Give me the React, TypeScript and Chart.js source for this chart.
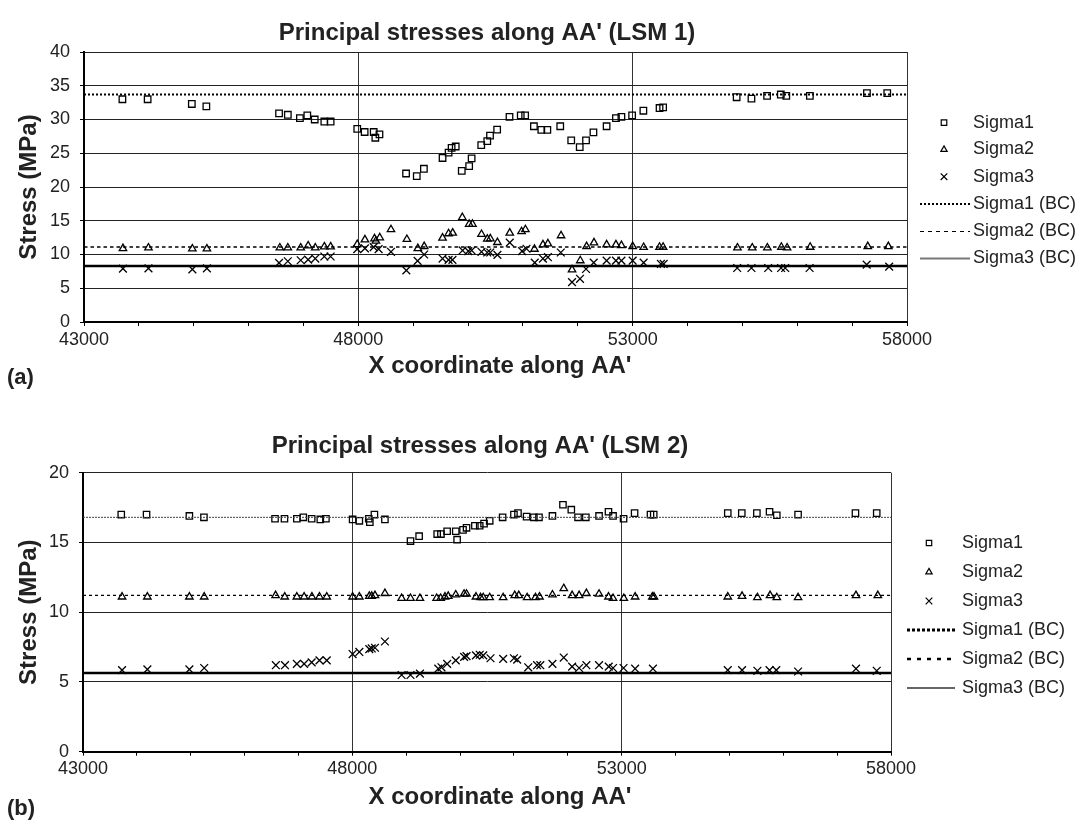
import React, { useEffect, useRef } from 'react';
import { Chart, registerables } from 'chart.js';

Chart.register(...registerables);

const FONT = "'Liberation Sans', Arial, Helvetica, sans-serif";

// ---------------- shared axis data ----------------
const X_MIN = 43000;
const X_MAX = 58000;
const X_STEP_MINOR = 1000;
const X_STEP_MAJOR = 5000;
const Y_STEP = 5;
const legendLabels = ['Sigma1', 'Sigma2', 'Sigma3', 'Sigma1 (BC)', 'Sigma2 (BC)', 'Sigma3 (BC)'];
const xAxisTitle = "X coordinate along AA'";
const yAxisTitle = 'Stress (MPa)';

// ---------------- panel (a): LSM 1 ----------------
const lsm1Title = "Principal stresses along AA' (LSM 1)";
const lsm1YMax = 40;
const lsm1Sigma1X = [43700, 44160, 44965, 45230, 46555, 46715, 46935, 47070, 47205, 47380, 47495, 47980, 48115, 48280, 48310, 48385, 48870, 49065, 49195, 49535, 49645, 49700, 49775, 49885, 50020, 50065, 50240, 50350, 50400, 50530, 50755, 50960, 51040, 51200, 51335, 51445, 51680, 51880, 52035, 52150, 52285, 52525, 52695, 52795, 52990, 53195, 53490, 53555, 54895, 55165, 55450, 55700, 55800, 56230, 57270, 57640];
const lsm1Sigma1Y = [33.0, 33.0, 32.3, 31.95, 30.9, 30.7, 30.2, 30.6, 30.0, 29.7, 29.7, 28.6, 28.15, 28.15, 27.3, 27.8, 22.0, 21.6, 22.7, 24.3, 25.1, 25.8, 26.0, 22.4, 23.1, 24.25, 26.2, 26.8, 27.6, 28.5, 30.4, 30.6, 30.6, 29.0, 28.45, 28.45, 29.0, 26.9, 25.9, 26.9, 28.1, 29.0, 30.2, 30.4, 30.6, 31.3, 31.7, 31.8, 33.3, 33.1, 33.5, 33.7, 33.5, 33.5, 33.9, 33.9];
const lsm1Sigma2X = [43710, 44175, 44975, 45240, 46570, 46715, 46950, 47085, 47215, 47380, 47495, 47980, 48120, 48295, 48320, 48390, 48595, 48885, 49085, 49200, 49535, 49645, 49720, 49895, 50020, 50080, 50245, 50350, 50405, 50535, 50760, 50975, 51045, 51210, 51365, 51455, 51695, 51895, 52045, 52160, 52295, 52525, 52695, 52795, 53000, 53200, 53490, 53555, 54910, 55180, 55455, 55710, 55815, 56235, 57285, 57660];
const lsm1Sigma2Y = [10.9, 11.0, 10.85, 10.85, 11.0, 11.0, 11.0, 11.3, 11.0, 11.15, 11.15, 11.5, 12.2, 12.35, 12.0, 12.5, 13.7, 12.25, 10.9, 11.2, 12.45, 13.1, 13.2, 15.5, 14.5, 14.5, 13.0, 12.3, 12.35, 11.8, 13.2, 13.4, 13.7, 10.8, 11.45, 11.6, 12.8, 7.75, 9.1, 11.2, 11.75, 11.45, 11.45, 11.35, 11.2, 11.07, 11.1, 11.1, 11.0, 11.0, 11.0, 11.1, 11.0, 11.1, 11.2, 11.2];
const lsm1Sigma3X = [43710, 44175, 44975, 45240, 46555, 46715, 46950, 47085, 47215, 47380, 47495, 47980, 48120, 48280, 48370, 48595, 48875, 49080, 49200, 49535, 49645, 49715, 49900, 50005, 50065, 50245, 50350, 50405, 50535, 50760, 50985, 51065, 51215, 51365, 51455, 51690, 51895, 52040, 52150, 52290, 52525, 52695, 52795, 53000, 53200, 53515, 53565, 54905, 55165, 55470, 55705, 55780, 56225, 57265, 57675];
const lsm1Sigma3Y = [7.9, 7.95, 7.8, 7.95, 8.75, 9.0, 9.15, 9.25, 9.4, 9.7, 9.7, 10.8, 10.9, 11.1, 10.8, 10.4, 7.65, 9.05, 10.0, 9.4, 9.2, 9.2, 10.6, 10.5, 10.6, 10.4, 10.3, 10.3, 9.95, 11.75, 10.5, 10.85, 8.8, 9.4, 9.6, 10.3, 5.9, 6.4, 7.85, 8.8, 9.1, 9.1, 9.1, 9.1, 8.8, 8.6, 8.6, 8.0, 8.0, 8.0, 8.0, 8.0, 8.0, 8.5, 8.2];
const lsm1BC = [33.7, 11.1, 8.3];

// ---------------- panel (b): LSM 2 ----------------
const lsm2Title = "Principal stresses along AA' (LSM 2)";
const lsm2YMax = 20;
const lsm2Sigma1X = [43710, 44180, 44975, 45245, 46565, 46740, 46970, 47090, 47245, 47405, 47510, 48005, 48130, 48305, 48325, 48410, 48605, 49080, 49240, 49575, 49645, 49760, 49920, 49945, 50055, 50120, 50275, 50365, 50445, 50550, 50790, 51000, 51075, 51235, 51370, 51465, 51715, 51910, 52065, 52190, 52335, 52580, 52755, 52840, 53035, 53240, 53535, 53595, 54970, 55230, 55510, 55745, 55880, 56275, 57340, 57735];
const lsm2Sigma1Y = [17.0, 17.0, 16.9, 16.8, 16.7, 16.7, 16.7, 16.8, 16.7, 16.65, 16.7, 16.65, 16.55, 16.7, 16.45, 17.0, 16.65, 15.1, 15.45, 15.6, 15.6, 15.8, 15.8, 15.2, 15.9, 16.05, 16.2, 16.2, 16.35, 16.55, 16.8, 17.0, 17.1, 16.85, 16.8, 16.8, 16.9, 17.7, 17.35, 16.8, 16.8, 16.9, 17.2, 16.9, 16.7, 17.1, 17.0, 17.0, 17.1, 17.1, 17.1, 17.2, 16.95, 17.0, 17.1, 17.1];
const lsm2Sigma2X = [43725, 44195, 44975, 45250, 46575, 46745, 46970, 47105, 47250, 47390, 47525, 48005, 48130, 48315, 48360, 48420, 48605, 48915, 49080, 49255, 49565, 49640, 49720, 49780, 49920, 50075, 50120, 50295, 50380, 50430, 50550, 50800, 51015, 51090, 51245, 51400, 51475, 51715, 51925, 52080, 52210, 52345, 52580, 52755, 52840, 53040, 53250, 53570, 53600, 54970, 55235, 55520, 55755, 55880, 56275, 57350, 57755];
const lsm2Sigma2Y = [11.1, 11.1, 11.1, 11.1, 11.2, 11.1, 11.1, 11.1, 11.1, 11.1, 11.1, 11.1, 11.1, 11.15, 11.15, 11.2, 11.35, 11.0, 11.0, 11.0, 11.0, 11.0, 11.1, 11.15, 11.25, 11.3, 11.3, 11.1, 11.05, 11.05, 11.05, 11.05, 11.2, 11.2, 11.05, 11.05, 11.1, 11.25, 11.7, 11.2, 11.2, 11.35, 11.3, 11.1, 11.0, 11.0, 11.1, 11.1, 11.1, 11.1, 11.15, 11.05, 11.2, 11.05, 11.05, 11.2, 11.2];
const lsm2Sigma3X = [43725, 44195, 44975, 45250, 46580, 46750, 46970, 47105, 47245, 47390, 47525, 48005, 48130, 48315, 48360, 48420, 48605, 48915, 49080, 49255, 49595, 49655, 49760, 49920, 50075, 50120, 50295, 50365, 50430, 50565, 50800, 51000, 51060, 51265, 51430, 51490, 51715, 51925, 52080, 52210, 52345, 52580, 52760, 52840, 53035, 53250, 53580, 54970, 55235, 55520, 55745, 55870, 56275, 57350, 57735];
const lsm2Sigma3Y = [5.85, 5.9, 5.9, 6.0, 6.2, 6.2, 6.3, 6.3, 6.4, 6.55, 6.55, 7.0, 7.15, 7.35, 7.4, 7.45, 7.9, 5.5, 5.5, 5.6, 5.95, 6.05, 6.3, 6.55, 6.8, 6.85, 6.9, 6.95, 6.9, 6.7, 6.65, 6.7, 6.6, 6.05, 6.2, 6.2, 6.3, 6.75, 6.1, 6.0, 6.2, 6.2, 6.1, 6.0, 6.0, 5.95, 5.95, 5.85, 5.85, 5.8, 5.85, 5.85, 5.75, 5.95, 5.8];
const lsm2BC = [16.8, 11.2, 5.65];

// ---------------- layout / style specs ----------------
type LineStyle = { dash: number[]; width: number; color: string };

type Spec = {
  top: number;
  canvasH: number;
  area: { left: number; right: number; top: number; bottom: number };
  yMax: number;
  title: string;
  titleX: number;
  titleY: number;
  xTitleX: number;
  xTitleY: number;
  yTitleX: number;
  panel: string;
  panelX: number;
  panelY: number;
  legendRows: number[];
  legendMarkerX: number;
  legendLine: [number, number];
  legendTextX: number;
  sx: number[][];
  sy: number[][];
  bc: number[];
  bcStyles: LineStyle[];
  legendLineStyles: LineStyle[];
  markerR: number[];
};

const markerKinds = ['rect', 'triangle', 'crossRot'];

const specA: Spec = {
  top: 0,
  canvasH: 400,
  area: { left: 84, right: 907, top: 52, bottom: 322 },
  yMax: lsm1YMax,
  title: lsm1Title,
  titleX: 487,
  titleY: 33,
  xTitleX: 500,
  xTitleY: 366,
  yTitleX: 29,
  panel: '(a)',
  panelX: 7,
  panelY: 378,
  legendRows: [122.7, 149.5, 176.7, 204, 231.5, 258.5],
  legendMarkerX: 944,
  legendLine: [920, 970],
  legendTextX: 973,
  sx: [lsm1Sigma1X, lsm1Sigma2X, lsm1Sigma3X],
  sy: [lsm1Sigma1Y, lsm1Sigma2Y, lsm1Sigma3Y],
  bc: lsm1BC,
  bcStyles: [
    { dash: [2, 2], width: 2, color: '#000' },
    { dash: [3.5, 3], width: 1.5, color: '#000' },
    { dash: [], width: 2.5, color: '#000' },
  ],
  legendLineStyles: [
    { dash: [2, 2], width: 2, color: '#000' },
    { dash: [4, 4], width: 1.2, color: '#000' },
    { dash: [], width: 2, color: '#777' },
  ],
  markerR: [4.6, 4.3, 5.5],
};

const specB: Spec = {
  top: 400,
  canvasH: 424,
  area: { left: 83, right: 891, top: 72.7, bottom: 351.7 },
  yMax: lsm2YMax,
  title: lsm2Title,
  titleX: 480,
  titleY: 46,
  xTitleX: 500,
  xTitleY: 397,
  yTitleX: 29,
  panel: '(b)',
  panelX: 7,
  panelY: 409,
  legendRows: [143, 172, 201, 230, 259, 288],
  legendMarkerX: 929,
  legendLine: [907, 955],
  legendTextX: 962,
  sx: [lsm2Sigma1X, lsm2Sigma2X, lsm2Sigma3X],
  sy: [lsm2Sigma1Y, lsm2Sigma2Y, lsm2Sigma3Y],
  bc: lsm2BC,
  bcStyles: [
    { dash: [2, 1], width: 1, color: '#444' },
    { dash: [3, 3], width: 1.2, color: '#000' },
    { dash: [], width: 2.5, color: '#000' },
  ],
  legendLineStyles: [
    { dash: [3, 2], width: 3, color: '#000' },
    { dash: [4, 6], width: 2.5, color: '#000' },
    { dash: [], width: 2, color: '#666' },
  ],
  markerR: [4.5, 4.3, 5.5],
};

function drawMarker(ctx: CanvasRenderingContext2D, kind: string, x: number, y: number, r: number) {
  ctx.beginPath();
  if (kind === 'rect') {
    const s = r * Math.SQRT1_2;
    ctx.rect(x - s, y - s, 2 * s, 2 * s);
  } else if (kind === 'triangle') {
    ctx.moveTo(x, y - r);
    ctx.lineTo(x + r * 0.866, y + r * 0.5);
    ctx.lineTo(x - r * 0.866, y + r * 0.5);
    ctx.closePath();
  } else {
    const o = r * Math.SQRT1_2;
    ctx.moveTo(x - o, y - o);
    ctx.lineTo(x + o, y + o);
    ctx.moveTo(x + o, y - o);
    ctx.lineTo(x - o, y + o);
  }
  ctx.stroke();
}

function decorPlugin(spec: Spec) {
  return {
    id: 'decor' + spec.panel,
    afterDraw(chart: any) {
      const ctx: CanvasRenderingContext2D = chart.ctx;
      const a = chart.chartArea;
      ctx.save();
      ctx.fillStyle = '#222';
      ctx.textBaseline = 'middle';
      // chart title
      ctx.font = `bold 24px ${FONT}`;
      ctx.textAlign = 'center';
      ctx.fillText(spec.title, spec.titleX, spec.titleY);
      // x axis title
      ctx.fillText(xAxisTitle, spec.xTitleX, spec.xTitleY);
      // y axis title
      ctx.save();
      ctx.translate(spec.yTitleX, (a.top + a.bottom) / 2);
      ctx.rotate(-Math.PI / 2);
      ctx.fillText(yAxisTitle, 0, 0);
      ctx.restore();
      // panel label
      ctx.textAlign = 'left';
      ctx.font = `bold 22px ${FONT}`;
      ctx.fillText(spec.panel, spec.panelX, spec.panelY);
      // legend
      ctx.font = `18px ${FONT}`;
      ctx.fillStyle = '#222';
      for (let i = 0; i < legendLabels.length; i++) {
        const y = spec.legendRows[i];
        ctx.strokeStyle = '#000';
        if (i < 3) {
          ctx.lineWidth = 1.2;
          ctx.setLineDash([]);
          drawMarker(ctx, markerKinds[i], spec.legendMarkerX, y, spec.markerR[i] * 0.85);
        } else {
          const st = spec.legendLineStyles[i - 3];
          ctx.lineWidth = st.width;
          ctx.strokeStyle = st.color;
          ctx.setLineDash(st.dash);
          ctx.beginPath();
          ctx.moveTo(spec.legendLine[0], y);
          ctx.lineTo(spec.legendLine[1], y);
          ctx.stroke();
          ctx.setLineDash([]);
        }
        ctx.fillText(legendLabels[i], spec.legendTextX, y);
      }
      ctx.restore();
    },
  };
}

function buildConfig(spec: Spec): any {
  const W = 1086;
  const pts = (xs: number[], ys: number[]) => xs.map((x, i) => ({ x, y: ys[i] }));
  const scatterSets = [0, 1, 2].map((i) => ({
    label: legendLabels[i],
    data: pts(spec.sx[i], spec.sy[i]),
    showLine: false,
    pointStyle: markerKinds[i],
    pointRadius: spec.markerR[i],
    pointBorderWidth: 1.3,
    borderColor: '#000',
    pointBorderColor: '#000',
    backgroundColor: 'rgba(0,0,0,0)',
    pointBackgroundColor: 'rgba(0,0,0,0)',
  }));
  const bcSets = [0, 1, 2].map((i) => ({
    label: legendLabels[i + 3],
    data: [
      { x: X_MIN, y: spec.bc[i] },
      { x: X_MAX, y: spec.bc[i] },
    ],
    showLine: true,
    pointRadius: 0,
    borderColor: spec.bcStyles[i].color,
    borderWidth: spec.bcStyles[i].width,
    borderDash: spec.bcStyles[i].dash,
    backgroundColor: 'rgba(0,0,0,0)',
    fill: false,
  }));
  const isMajor = (v: number) => Math.abs((v - X_MIN) % X_STEP_MAJOR) < 1e-6;
  const tickFont = { family: FONT, size: 18 };
  return {
    type: 'scatter',
    data: { datasets: [...bcSets, ...scatterSets] },
    options: {
      animation: false,
      responsive: false,
      maintainAspectRatio: false,
      devicePixelRatio: 1,
      events: [],
      layout: {
        padding: { left: 0, top: spec.area.top, right: W - spec.area.right, bottom: 0 },
      },
      plugins: {
        legend: { display: false },
        title: { display: false },
        tooltip: { enabled: false },
      },
      scales: {
        x: {
          type: 'linear',
          min: X_MIN,
          max: X_MAX,
          ticks: {
            stepSize: X_STEP_MINOR,
            autoSkip: false,
            maxRotation: 0,
            minRotation: 0,
            padding: 3,
            color: '#222',
            font: tickFont,
            callback: (v: number) => (isMajor(v) ? String(v) : ''),
          },
          grid: {
            color: (c: any) => (c.tick && isMajor(c.tick.value) ? '#333' : 'rgba(0,0,0,0)'),
            tickColor: '#000',
            tickLength: 4,
            lineWidth: 1,
          },
          border: { display: true, color: '#000', width: 2 },
          afterFit: (s: any) => {
            s.height = spec.canvasH - spec.area.bottom;
          },
        },
        y: {
          type: 'linear',
          min: 0,
          max: spec.yMax,
          ticks: {
            stepSize: Y_STEP,
            padding: 10,
            color: '#222',
            font: tickFont,
            callback: (v: number) => String(v),
          },
          grid: { color: '#222', tickColor: '#000', tickLength: 4, lineWidth: 1 },
          border: { display: true, color: '#000', width: 2 },
          afterFit: (s: any) => {
            s.width = spec.area.left;
          },
        },
      },
    },
    plugins: [decorPlugin(spec)],
  };
}

function Panel({ spec }: { spec: Spec }) {
  const ref = useRef<HTMLCanvasElement | null>(null);
  useEffect(() => {
    if (!ref.current) return;
    const chart = new Chart(ref.current, buildConfig(spec));
    return () => chart.destroy();
  }, [spec]);
  return (
    <canvas
      ref={ref}
      width={1086}
      height={spec.canvasH}
      style={{ position: 'absolute', left: 0, top: spec.top, width: 1086, height: spec.canvasH }}
    />
  );
}

export default function App() {
  return (
    <div
      style={{
        position: 'absolute',
        left: 0,
        top: 0,
        width: 1086,
        height: 824,
        background: '#fff',
        overflow: 'hidden',
      }}
    >
      <Panel spec={specA} />
      <Panel spec={specB} />
    </div>
  );
}
